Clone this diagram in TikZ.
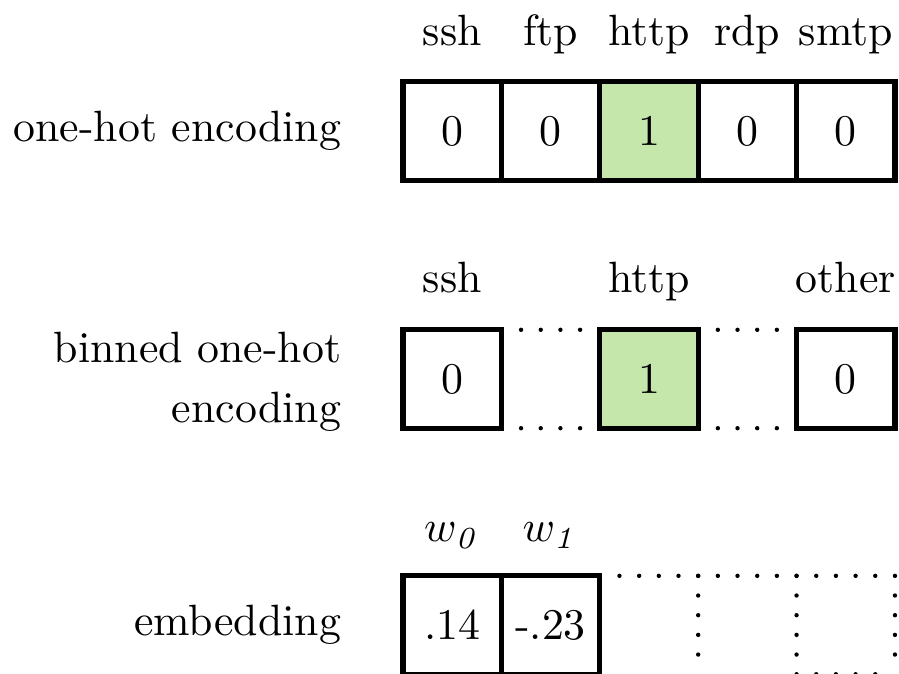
\documentclass[tikz,border=0pt]{standalone}
\usepackage{amsmath}
\usepackage{amssymb}
\usetikzlibrary{positioning,calc}

\definecolor{hotgreen}{RGB}{198,231,172}

\begin{document}
\begin{tikzpicture}[
        cell/.style={draw,very thick,minimum size=0.789cm,inner sep=0pt,outer sep=0pt},
        gap/.style={minimum size=0.789cm,inner sep=0pt,outer sep=0pt},
        hot/.style={cell,fill=hotgreen},
        dots/.style={line width=1pt,line cap=round,dash pattern=on 0pt off 4.49pt},
        head/.style={anchor=base,inner sep=0pt},
        rowname/.style={anchor=east,align=right,inner sep=0pt}]
        \useasboundingbox (0,0) rectangle (7.209,-5.397);

        %%%% One-hot encoding ============================
        \begin{scope}
            % Cells
            \node[cell] (o1) at (3.626, -1.050) {0};
            \node[cell] (o2) at (4.415, -1.050) {0};
            \node[hot]  (o3) at (5.204, -1.050) {1};
            \node[cell] (o4) at (5.993, -1.050) {0};
            \node[cell] (o5) at (6.782, -1.050) {0};

            % Headers
            \node[head] (ho1) at (3.626, -0.361) {ssh};
            \node[head] (ho2) at (4.415, -0.361) {ftp};
            \node[head] (ho3) at (5.204, -0.361) {http};
            \node[head] (ho4) at (5.993, -0.361) {rdp};
            \node[head] (ho5) at (6.782, -0.361) {smtp};

            % Row name
            \node[rowname] (no) at (2.743, -1.050) {one-hot encoding};
        \end{scope}

        %%%% Binned one-hot encoding =====================
        \begin{scope}
            % Cells
            \node[cell] (b1) at (3.626, -3.039) {0};
            \node[gap]  (b2) at (4.415, -3.039) {};
            \node[hot]  (b3) at (5.204, -3.039) {1};
            \node[gap]  (b4) at (5.993, -3.039) {};
            \node[cell] (b5) at (6.782, -3.039) {0};

            % Headers
            \node[head] (hb1) at (3.626, -2.342) {ssh};
            \node[head] (hb3) at (5.204, -2.342) {http};
            \node[head] (hb5) at (6.782, -2.342) {other};

            % Row name
            \node[rowname] (nb) at (2.743, -3.060) {binned one-hot\\[1.7pt]encoding};

            % Dotted gaps
            \draw[dots] (b1.north east) -- (b3.north west);
            \draw[dots] (b1.south east) -- (b3.south west);
            \draw[dots] (b3.north east) -- (b5.north west);
            \draw[dots] (b3.south east) -- (b5.south west);
        \end{scope}

        %%%% Embedding ===================================
        \begin{scope}
            % Cells
            \node[cell] (e1) at (3.626, -5.012) {.14};
            \node[cell] (e2) at (4.415, -5.012) {-.23};
            \node[gap]  (e3) at (5.204, -5.012) {};
            \node[gap]  (e4) at (5.993, -5.012) {};
            \node[gap]  (e5) at (6.782, -5.012) {};

            % Headers
            \node[head] (he1) at (3.626, -4.346) {$w_{\mathit{0}}$};
            \node[head] (he2) at (4.415, -4.346) {$w_{\mathit{1}}$};

            % Row name
            \node[rowname] (ne) at (2.743, -5.012) {embedding};

            % Dotted cells
            \draw[dots] (e2.north east) -- (e5.north east);
            \draw[dots] (e3.north east) -- (e3.south east);
            \draw[dots] (e4.north east) -- (e4.south east);
            \draw[dots] (e5.north east) -- (e5.south east);
            \draw[dots] (e5.south west) -- (e5.south east);
        \end{scope}
    \end{tikzpicture}
\end{document}
